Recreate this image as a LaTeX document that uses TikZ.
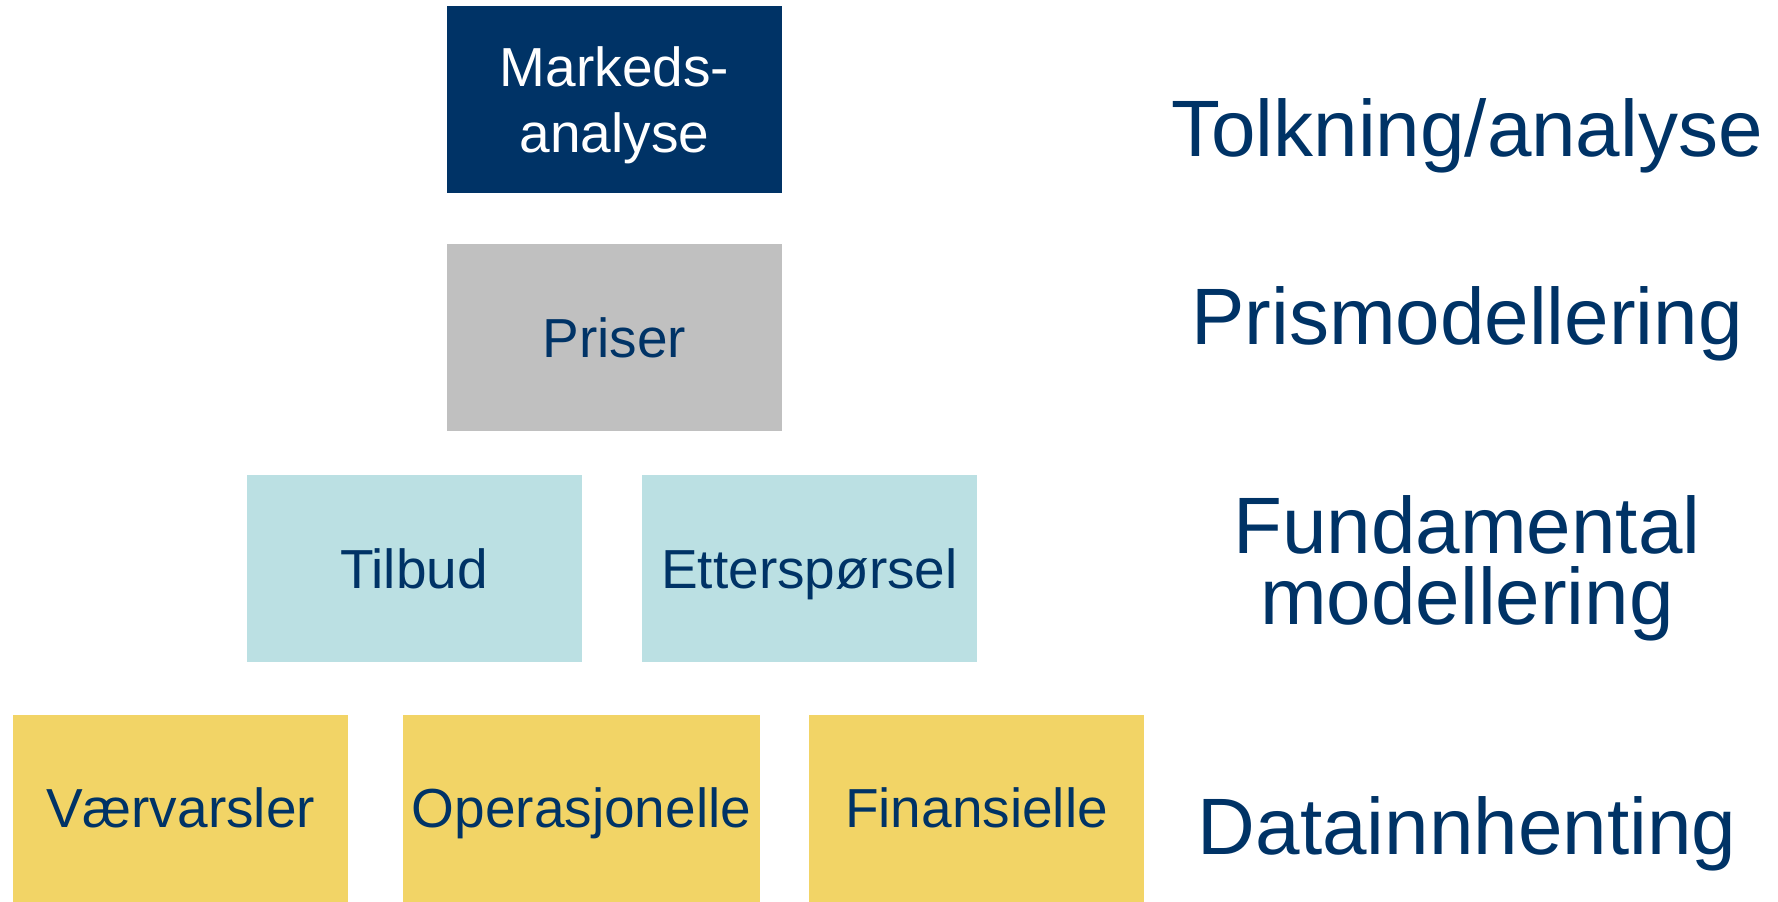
\documentclass[tikz,border=0pt]{standalone}
\usepackage{fontspec}
\setmainfont{Liberation Sans}
\usepackage{tikz}
\usetikzlibrary{positioning}

\definecolor{navy}{HTML}{003366}
\definecolor{prisgray}{HTML}{C0C0C0}
\definecolor{fundcyan}{HTML}{BBE0E3}
\definecolor{datayellow}{HTML}{F2D466}

\begin{document}
\begin{tikzpicture}
    [node distance=100pt,on grid,
     box/.style={rectangle,minimum width=167.5pt,minimum height=93.5pt,inner sep=0pt,
       text=navy,font=\fontsize{27.5}{33}\selectfont},
     oneline/.style={box,text height=19.7pt,text depth=0pt},
     level/.style={text=navy,align=center,font=\fontsize{40}{35.5}\selectfont}]

    \useasboundingbox (0,0) rectangle (889pt,-450.5pt);

    \node[box,fill=navy,text=white,align=center,text depth=0pt] (mark) at (307.25pt,-49.75pt) {Markeds-\\analyse};
    \node[oneline,fill=prisgray] (pris) [below =119pt of mark] {Priser};
    \node[oneline,fill=fundcyan] (tilbud) [below left =115.5pt and 100.25pt of pris] {Tilbud};
    \node[oneline,fill=fundcyan] (ettersp) [right =197.75pt of tilbud] {Etterspørsel};
    \node[oneline,fill=datayellow] (vaer) [below left =119.75pt and 116.75pt of tilbud] {Værvarsler};
    \node[oneline,fill=datayellow,minimum width=178.5pt] (oper) [right =200.5pt of vaer] {Operasjonelle};
    \node[oneline,fill=datayellow] (fin) [right =197.5pt of oper] {Finansielle};

    \node[level,anchor=base] (tolk) at (733.5pt,-78pt) {Tolkning/analyse};
    \node[level,anchor=base] (prism) at (733.5pt,-172pt) {Prismodellering};
    \node[level] (fund) at (733.5pt,-284pt) {Fundamental\\modellering};
    \node[level,anchor=base] (datai) at (733.5pt,-427pt) {Datainnhenting};

  \end{tikzpicture}
\end{document}
